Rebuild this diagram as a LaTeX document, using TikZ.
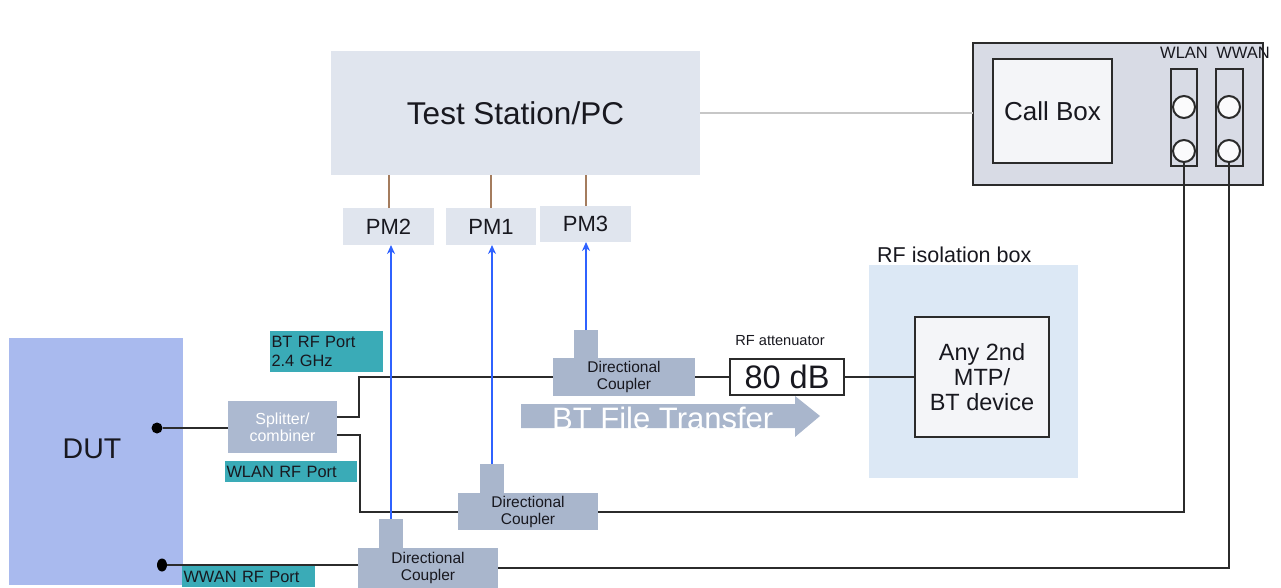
\documentclass[tikz,border=0pt]{standalone}
\usepackage{fontspec}
\setmainfont{Liberation Sans}
\usetikzlibrary{arrows.meta,shapes.geometric}
\definecolor{tsfill}{HTML}{E0E5EE}
\definecolor{dcfill}{HTML}{A9B6CC}
\definecolor{splfill}{HTML}{ACB9D0}
\definecolor{teal}{HTML}{3AABB7}
\definecolor{dutfill}{HTML}{A9BAEE}
\definecolor{cbfill}{HTML}{D8DBE5}
\definecolor{cbinner}{HTML}{F4F5F8}
\definecolor{isofill}{HTML}{DCE8F5}
\definecolor{bluel}{HTML}{2F62FF}
\definecolor{brownl}{HTML}{A47C5E}
\definecolor{txt}{HTML}{18181F}
\definecolor{conn}{HTML}{2B2B2B}
\tikzset{
  fs/.style={font=\fontsize{#1}{#1}\selectfont},
  rbox/.style 2 args={inner sep=0pt, outer sep=0pt, anchor=north west, minimum width=#1, minimum height=#2, text=txt},
  pmbox/.style={fill=tsfill, fs=22},
  dcbox/.style={fill=dcfill, align=center, font=\fontsize{15.5}{17}\selectfont},
  portlbl/.style={fill=teal, align=left, font=\fontsize{16.4}{19}\selectfont, text=txt},
  wire/.style={draw=conn, line width=2pt},
  bluearrow/.style={draw=bluel, line width=1.7pt, -{Stealth[length=9pt,width=8pt]}},
  brownline/.style={draw=brownl, line width=2pt},
  port/.style={circle, draw=conn, line width=2pt, fill=white!60!cbinner, minimum size=22pt, inner sep=0pt},
}
\begin{document}
\begin{tikzpicture}[x=1pt,y=-1pt]
\useasboundingbox (0,0) rectangle (1281,588);
% Test station
\node[rbox={369pt}{124pt}, fill=tsfill, fs=31.5] (ts) at (331,51) {Test Station/PC};
% Call box
\node[rbox={290pt}{142pt}, fill=cbfill, draw=conn, line width=2.4pt] (cb) at (973,43) {};
\node[rbox={119pt}{104pt}, fill=cbinner, draw=conn, line width=2.2pt, fs=26] (cbi) at (993,59) {Call Box};
\node[rbox={26pt}{97pt}, draw=conn, line width=1.8pt] (wlstrip) at (1171,69) {};
\node[rbox={27pt}{97pt}, draw=conn, line width=1.8pt] (wwstrip) at (1216,69) {};
\node[port] (wl1) at (1184,107) {};
\node[port] (wl2) at (1184,151) {};
\node[port] (ww1) at (1229,107) {};
\node[port] (ww2) at (1229,151) {};
\node[fs=16.5, text=txt, inner sep=0pt] (wllbl) at (1184,53) {WLAN};
\node[fs=16.5, text=txt, inner sep=0pt] (wwlbl) at (1243,53) {WWAN};
\draw[draw=black!22, line width=1.2pt] (ts.east) -- (ts.east -| cb.west);
% PMs
\node[rbox={91pt}{37pt}, pmbox] (pm2) at (343,208) {PM2};
\node[rbox={90pt}{37pt}, pmbox] (pm1) at (446,208) {PM1};
\node[rbox={91pt}{36pt}, pmbox] (pm3) at (540,206) {PM3};
\draw[brownline] (pm2.north) -- (pm2.north |- ts.south);
\draw[brownline] (pm1.north) -- (pm1.north |- ts.south);
\draw[brownline] (pm3.north) -- (pm3.north |- ts.south);
% RF isolation box
\node[rbox={209pt}{213pt}, fill=isofill] (iso) at (869,265) {};
\node[anchor=south west, inner sep=0pt, fs=21.5, text=txt] (isolbl) at (877,263) {RF isolation box};
\node[rbox={134pt}{120pt}, fill=cbinner, draw=conn, line width=2.2pt, align=center, font=\fontsize{23.5}{25}\selectfont] (mtp) at (915,317) {Any 2nd\\MTP/\\BT device};
% DUT
\node[rbox={174pt}{247pt}, fill=dutfill] (dut) at (9,338) {};
\node[fs=28.5, text=txt, inner sep=0pt] (dutlbl) at (92,449) {DUT};
\node[circle, fill=black, minimum size=11pt, inner sep=0pt] (d1) at (157,428) {};
\node[ellipse, fill=black, minimum width=10pt, minimum height=13pt, inner sep=0pt] (d2) at (162,565) {};
% Splitter
\node[rbox={109pt}{52pt}, fill=splfill, align=center, font=\fontsize{16}{17}\selectfont, text=white] (split) at (228,401) {Splitter/\\combiner};
% Port labels
\node[rbox={113pt}{41pt}, portlbl, text width=110pt, inner xsep=1.5pt, minimum width=113pt] (btlbl) at (270,331) {BT RF Port\\2.4 GHz};
\node[rbox={132pt}{21pt}, portlbl, text width=129pt, inner xsep=1.5pt, minimum width=132pt] (wllbl2) at (225,461) {WLAN RF Port};
\node[rbox={133pt}{21pt}, portlbl, text width=130pt, inner xsep=1.5pt, minimum width=133pt] (wwlbl2) at (182,566) {WWAN RF Port};
% BT file transfer arrow
\fill[dcfill] (521,404) -- (795,404) -- (795,396) -- (820,416) -- (795,437) -- (795,428) -- (521,428) -- cycle;
\node[anchor=west, inner sep=0pt, fs=31, text=white] (btft) at (552,418) {BT File Transfer};
% Directional couplers
\node[rbox={142pt}{38pt}, dcbox] (dc3) at (553,358) {Directional\\Coupler};
\node[rbox={24pt}{29pt}, fill=dcfill] (dc3s) at (574,330) {};
\node[rbox={140pt}{37pt}, dcbox] (dc2) at (458,493) {Directional\\Coupler};
\node[rbox={24pt}{30pt}, fill=dcfill] (dc2s) at (480,464) {};
\node[rbox={140pt}{40pt}, dcbox] (dc1) at (358,548) {Directional\\Coupler};
\node[rbox={24pt}{30pt}, fill=dcfill] (dc1s) at (379,519) {};
% Attenuator
\node[rbox={114pt}{36pt}, fill=white, draw=conn, line width=2.2pt, fs=32.5] (att) at (730,359) {80 dB};
\node[inner sep=0pt, font=\fontsize{14.6}{16}\selectfont, text=txt] (attlbl) at (780,341) {RF attenuator};
% wires
\draw[wire] (d1) -- (d1 -| split.west);
\draw[wire] ([yshift=10pt]split.east) -- ++(22,0) |- (dc3.west);
\draw[wire] ([yshift=-8pt]split.east) -- ++(23,0) |- (dc2.west);
\draw[wire] (dc3.east) -- (att.west);
\draw[wire] (att.east) -- (mtp.west);
\draw[wire] (dc2.east) -| (wl2.south);
\draw[wire] (d2) -- (d2 -| dc1.west);
\draw[wire] (dc1.east) -| (ww2.south);
% blue arrows
\draw[bluearrow] (dc1s.north) -- (dc1s.north |- pm2.south);
\draw[bluearrow] (dc2s.north) -- (dc2s.north |- pm1.south);
\draw[bluearrow] (dc3s.north) -- (dc3s.north |- pm3.south);
\end{tikzpicture}
\end{document}
